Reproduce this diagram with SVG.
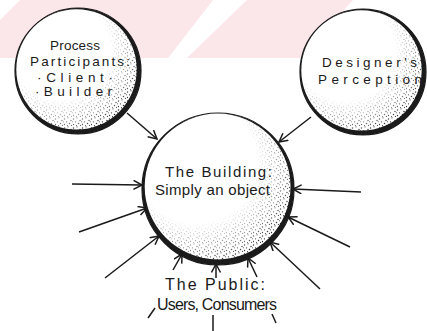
<svg xmlns="http://www.w3.org/2000/svg" width="427" height="331" viewBox="0 0 427 331">
<style>
.edge{fill:#1a1a1a;stroke:#1a1a1a;stroke-width:1.2}
.inner{fill:#ffffff}
.stip{fill:url(#dots)}
.lbl{font-family:"Liberation Sans","DejaVu Sans",sans-serif;fill:#1a1a1a}
.s{font-size:13.5px}
.m{font-size:15px}
.p{font-size:16px}
.con line{stroke:#1a1a1a;stroke-width:1.5;fill:none}
.arr{marker-end:url(#ah)}
</style>
<defs>
<marker id="ah" markerUnits="userSpaceOnUse" markerWidth="12" markerHeight="12" refX="9" refY="5" orient="auto">
<path d="M0.5,0.5 L9,5 L0.5,9.5" fill="none" stroke="#1a1a1a" stroke-width="1.5"/>
</marker>
<pattern id="dots" patternUnits="userSpaceOnUse" width="9" height="9">
<circle cx="1.5" cy="2" r="0.75" fill="#222"/>
<circle cx="5" cy="0.8" r="0.65" fill="#222"/>
<circle cx="8" cy="3.5" r="0.75" fill="#222"/>
<circle cx="3.5" cy="4.8" r="0.65" fill="#222"/>
<circle cx="6.5" cy="6.5" r="0.75" fill="#222"/>
<circle cx="1.5" cy="7.5" r="0.65" fill="#222"/>
<circle cx="8.4" cy="8.4" r="0.55" fill="#222"/>
<circle cx="4.5" cy="8.5" r="0.55" fill="#222"/>
<circle cx="0.5" cy="4.8" r="0.5" fill="#222"/>
</pattern>
<radialGradient id="sh" cx="0.36" cy="0.33" r="0.72">
<stop offset="0" stop-color="#000"/>
<stop offset="0.55" stop-color="#000"/>
<stop offset="0.8" stop-color="#888"/>
<stop offset="0.95" stop-color="#fff"/>
</radialGradient>
<mask id="m" maskContentUnits="objectBoundingBox">
<circle cx="0.5" cy="0.5" r="0.5" fill="url(#sh)"/>
</mask>
</defs>
<rect width="427" height="331" fill="#ffffff"/>
<g id="watermark">
<polygon points="20,0 213,0 168,58 0,58 0,20" fill="#fbe6e9"/>
<polygon points="247,0 353,0 300,58 187,58" fill="#fbe6e9"/>
</g>
<g class="con" id="connectors">
<line class="arr" x1="127" y1="113" x2="157" y2="139"/>
<line class="arr" x1="311" y1="117" x2="279" y2="142"/>
<line class="arr" x1="72" y1="184" x2="142" y2="185"/>
<line class="arr" x1="79" y1="232" x2="147" y2="208"/>
<line class="arr" x1="105" y1="278" x2="159" y2="236"/>
<line class="arr" x1="173" y1="270" x2="182" y2="254"/>
<line class="arr" x1="216" y1="278" x2="216" y2="264"/>
<line class="arr" x1="257" y1="277" x2="248" y2="258"/>
<line class="arr" x1="320" y1="289" x2="270" y2="242"/>
<line class="arr" x1="350" y1="247" x2="288" y2="217"/>
<line class="arr" x1="361" y1="192" x2="293" y2="189"/>
<line x1="148" y1="318" x2="155" y2="308"/>
<line x1="213" y1="315" x2="213" y2="331"/>
<line x1="272" y1="314" x2="276" y2="323"/>
</g>
<g id="process">
<circle class="edge" cx="78" cy="71" r="63"/>
<circle class="inner" cx="76.5" cy="69.4" r="60.2"/>
<circle class="stip" cx="78" cy="71" r="62" mask="url(#m)"/>
<text class="lbl s" x="50" y="50" textLength="50" lengthAdjust="spacing">Process</text>
<text class="lbl s" x="30" y="66" textLength="100" lengthAdjust="spacing">Participants:</text>
<text class="lbl s" x="37" y="82" textLength="76" lengthAdjust="spacing">·Client·</text>
<text class="lbl s" x="35" y="96" textLength="77" lengthAdjust="spacing">·Builder</text>
</g>
<g id="designer">
<circle class="edge" cx="363" cy="72" r="63"/>
<circle class="inner" cx="361.5" cy="70.4" r="60.2"/>
<circle class="stip" cx="363" cy="72" r="62" mask="url(#m)"/>
<text class="lbl s" x="322" y="67" textLength="95" lengthAdjust="spacing">Designer's</text>
<text class="lbl s" x="318" y="84" textLength="104" lengthAdjust="spacing">Perception</text>
</g>
<g id="building">
<circle class="edge" cx="218" cy="189" r="76"/>
<circle class="inner" cx="217.6" cy="186.5" r="72.9"/>
<circle class="stip" cx="218" cy="189" r="75" mask="url(#m)"/>
<text class="lbl m" x="165" y="177" textLength="107" lengthAdjust="spacing">The Building:</text>
<text class="lbl m" x="155" y="195" textLength="115" lengthAdjust="spacing">Simply an object</text>
</g>
<g id="public">
<text class="lbl p" x="165" y="290" textLength="100" lengthAdjust="spacing">The Public:</text>
<text class="lbl p" x="157" y="310" textLength="120" lengthAdjust="spacing">Users, Consumers</text>
</g>
</svg>
